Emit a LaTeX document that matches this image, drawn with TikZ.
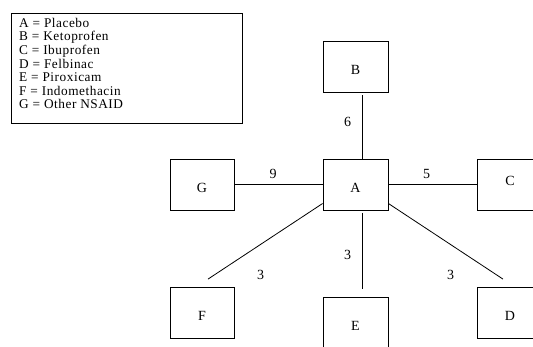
\documentclass[tikz,border=0pt]{standalone}
\usepackage{fontspec}
\setmainfont{Liberation Serif}
\newfontfamily\legfont[LetterSpace=4]{Liberation Serif}
\begin{document}
\begin{tikzpicture}[x=1pt,y=-1pt,
  box/.style={draw,line width=0.8pt,minimum width=65pt,minimum height=51pt,inner sep=0pt,text height=15pt,text depth=0pt,font=\fontsize{14}{16}\selectfont},
  conn/.style={line width=0.8pt},
  lab/.style={font=\fontsize{14}{16}\selectfont,inner sep=0pt},
  legtxt/.style={anchor=base west,inner sep=0pt,font=\legfont\fontsize{13.3}{14}\selectfont}]
\useasboundingbox (0,0) rectangle (533,346);
\clip (0,0) rectangle (533,346);
% legend
\node[draw,line width=0.8pt,minimum width=230.6pt,minimum height=110pt,inner sep=0pt] (legend) at (127,68.3) {};
\node[legtxt] (l1) at (19,27.3) {A = Placebo};
\node[legtxt] (l2) at (19,40.9) {B = Ketoprofen};
\node[legtxt] (l3) at (19,54.5) {C = Ibuprofen};
\node[legtxt] (l4) at (19,68.1) {D = Felbinac};
\node[legtxt] (l5) at (19,81.7) {E = Piroxicam};
\node[legtxt] (l6) at (19,95.3) {F = Indomethacin};
\node[legtxt] (l7) at (19,108.9) {G = Other NSAID};
% boxes
\node[box] (A) at (355.5,184.5) {A};
\node[box] (B) at (355.5,66.5) {B};
\node[box,minimum width=64pt] (G) at (202,184.5) {G};
\node[box,text height=1pt] (C) at (510,184.5) {C};
\node[box] (D) at (510,313) {D};
\node[box,minimum width=64pt] (F) at (202,313) {F};
\node[box] (E) at (355.5,323) {E};
% connectors
\draw[conn] ([xshift=7pt,yshift=-3pt]B.south) -- ([xshift=7pt]A.north);
\draw[conn] (G.east) -- (A.west);
\draw[conn] (A.east) -- (C.west);
\draw[conn] ([xshift=7pt,yshift=-2.5pt]A.south) -- ([xshift=7pt,yshift=8pt]E.north);
\draw[conn] ([yshift=-19pt]A.west) -- ([xshift=6pt,yshift=8pt]F.north);
\draw[conn] ([yshift=-19pt]A.east) -- ([xshift=-7pt,yshift=8pt]D.north);
% labels
\node[lab] (n6) at (347.7,122.3) {6};
\node[lab] (n9) at (273,174) {9};
\node[lab] (n5) at (426.7,174) {5};
\node[lab] (n3e) at (347.7,255) {3};
\node[lab] (n3f) at (260.7,275) {3};
\node[lab] (n3d) at (450.7,275) {3};
\end{tikzpicture}
\end{document}
